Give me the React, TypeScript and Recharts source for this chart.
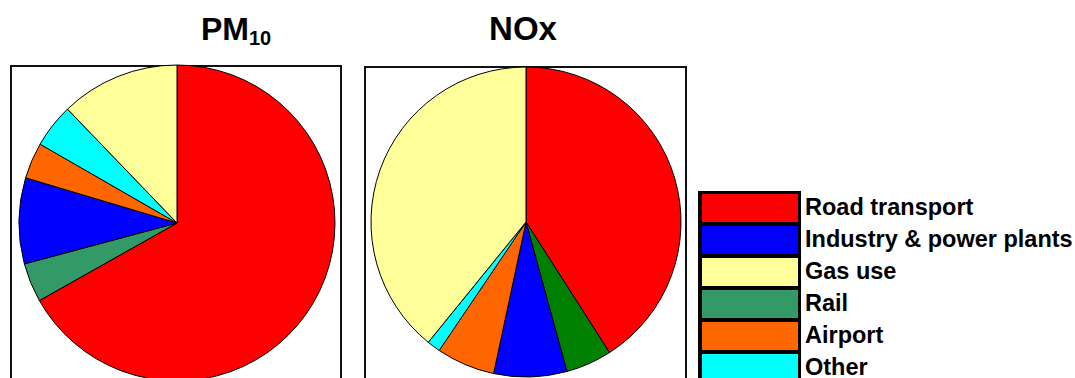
import { PieChart, Pie, Cell, Legend } from "recharts";

// legend order
const categories = [
  "Road transport",
  "Industry & power plants",
  "Gas use",
  "Rail",
  "Airport",
  "Other",
];
const legendColors = ["#FF0000", "#0000FF", "#FFFF99", "#339966", "#FF6600", "#00FFFF"];

// shares in %, same order as categories
const pm10Values = [66.9, 8.8, 12.2, 4.0, 3.7, 4.5];
const noxValues = [40.9, 7.6, 39.1, 4.8, 6.1, 1.4];

// slices run clockwise from 12 o'clock in this order
const sliceOrder = ["Road transport", "Rail", "Industry & power plants", "Airport", "Other", "Gas use"];

const pm10Colors: Record<string, string> = {
  "Road transport": "#FF0000",
  "Industry & power plants": "#0000FF",
  "Gas use": "#FFFF99",
  Rail: "#339966",
  Airport: "#FF6600",
  Other: "#00FFFF",
};
const noxColors: Record<string, string> = { ...pm10Colors, Rail: "#008000" };

const buildData = (values: number[]) =>
  sliceOrder.map((name) => ({ name, value: values[categories.indexOf(name)] }));

const pm10Data = buildData(pm10Values);
const noxData = buildData(noxValues);

const FONT = "Arial, 'Liberation Sans', Helvetica, sans-serif";

const LegendBox = () => (
  <div style={{ position: "relative", fontFamily: FONT }}>
    <div
      style={{
        position: "absolute",
        left: 0,
        top: 0,
        width: 103,
        height: 3 + 32 * categories.length,
        background: "#000",
      }}
    />
    {categories.map((c, i) => (
      <div key={c}>
        <div
          style={{
            position: "absolute",
            left: 4,
            top: 3 + 32 * i,
            width: 96,
            height: 28,
            background: legendColors[i],
          }}
        />
        <div
          style={{
            position: "absolute",
            left: 107,
            top: 2 + 32 * i,
            height: 28,
            lineHeight: "28px",
            fontSize: 23.5,
            fontWeight: "bold",
            color: "#000",
            whiteSpace: "nowrap",
          }}
        >
          {c}
        </div>
      </div>
    ))}
  </div>
);

const frame = (left: number, top: number, width: number) => ({
  position: "absolute" as const,
  left,
  top,
  width,
  height: 400,
  border: "2px solid #111",
  boxSizing: "border-box" as const,
});

export default function App() {
  return (
    <div
      style={{
        position: "absolute",
        left: 0,
        top: 0,
        width: 1075,
        height: 378,
        overflow: "hidden",
        background: "#fff",
      }}
    >
      <div style={frame(10, 65, 332)} />
      <div style={frame(364, 66, 323)} />
      <svg
        width={1075}
        height={60}
        style={{ position: "absolute", left: 0, top: 0 }}
        fontFamily={FONT}
        fontWeight="bold"
      >
        <text x={236} y={40} textAnchor="middle" fontSize={32}>
          PM
          <tspan fontSize={20} dy={5}>
            10
          </tspan>
        </text>
        <text x={523} y={40} textAnchor="middle" fontSize={33}>
          NOx
        </text>
      </svg>
      <div style={{ position: "absolute", left: 0, top: 0 }}>
        <PieChart width={1075} height={378} margin={{ top: 0, right: 0, bottom: 0, left: 0 }}>
          <Pie
            data={pm10Data}
            dataKey="value"
            nameKey="name"
            cx={177}
            cy={223}
            outerRadius={158}
            startAngle={90}
            endAngle={-270}
            stroke="#000"
            strokeWidth={1}
            isAnimationActive={false}
          >
            {pm10Data.map((d) => (
              <Cell key={d.name} fill={pm10Colors[d.name]} />
            ))}
          </Pie>
          <Pie
            data={noxData}
            dataKey="value"
            nameKey="name"
            cx={526}
            cy={222}
            outerRadius={155}
            startAngle={90}
            endAngle={-270}
            stroke="#000"
            strokeWidth={1}
            isAnimationActive={false}
          >
            {noxData.map((d) => (
              <Cell key={d.name} fill={noxColors[d.name]} />
            ))}
          </Pie>
          <Legend
            content={() => <LegendBox />}
            wrapperStyle={{ left: 698, top: 191, width: 377, height: 200 }}
          />
        </PieChart>
      </div>
    </div>
  );
}
